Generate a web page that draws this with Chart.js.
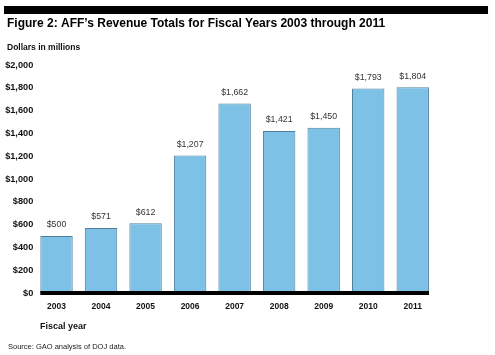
<!DOCTYPE html>
<html><head><meta charset="utf-8">
<script src="https://cdn.jsdelivr.net/npm/chart.js@4/dist/chart.umd.min.js"></script>
<style>html,body{margin:0;padding:0;background:#fff;}#wrap{width:495px;height:355px;position:relative;}</style>
</head><body><div id="wrap"><canvas id="c" width="495" height="355"></canvas></div>
<script>
const years = ["2003","2004","2005","2006","2007","2008","2009","2010","2011"];
const revenue = [500, 571, 612, 1207, 1662, 1421, 1450, 1793, 1804];
const yTicks = [0,200,400,600,800,1000,1200,1400,1600,1800,2000];
const titleText = "Figure 2: AFF\u2019s Revenue Totals for Fiscal Years 2003 through 2011";
const unitText = "Dollars in millions";
const xAxisTitle = "Fiscal year";
const sourceText = "Source: GAO analysis of DOJ data.";

const fmt = v => "$" + v.toLocaleString("en-US");
const FF = "'Liberation Sans', Arial, sans-serif";

const decor = {
  id: 'decor',
  beforeDraw(chart) {
    const ctx = chart.ctx;
    ctx.save();
    ctx.fillStyle = "#fff"; ctx.fillRect(0,0,chart.width,chart.height);
    ctx.fillStyle = "#000"; ctx.fillRect(4,6,484,8);
    ctx.fillStyle = "#000"; ctx.textBaseline = "middle"; ctx.textAlign = "left";
    ctx.font = "bold 12px " + FF; ctx.fillText(titleText, 7, 23.5);
    ctx.font = "bold 8.5px " + FF; ctx.fillStyle = "#111"; ctx.fillText(unitText, 7, 48);
    ctx.font = "bold 9px " + FF; ctx.fillText(xAxisTitle, 40, 327);
    ctx.font = "7.5px " + FF; ctx.fillStyle = "#222"; ctx.fillText(sourceText, 8, 347);
    ctx.restore();
  },
  afterDatasetsDraw(chart) {
    const ctx = chart.ctx;
    const meta = chart.getDatasetMeta(0).data;
    ctx.save();
    const first = meta[0], last = meta[meta.length - 1];
    const yb = chart.scales.y.getPixelForValue(0);
    ctx.fillStyle = "#000";
    ctx.fillRect(first.x - first.width / 2, yb - 2, (last.x + last.width / 2) - (first.x - first.width / 2), 4);
    ctx.font = "8.8px " + FF; ctx.fillStyle = "#333"; ctx.textAlign = "center"; ctx.textBaseline = "middle";
    meta.forEach((bar, i) => {
      ctx.fillText(fmt(revenue[i]), bar.x, bar.y - 11);
    });
    ctx.restore();
  }
};

new Chart(document.getElementById('c'), {
  type: 'bar',
  data: { labels: years, datasets: [{ data: revenue, backgroundColor: "#7DC2E6", borderColor: "#4f7f9c", borderWidth: 1, borderSkipped: 'bottom', barPercentage: 0.728, categoryPercentage: 1 }] },
  options: {
    responsive: false, animation: false,
    layout: { padding: { top: 65, right: 60, left: 0, bottom: 0 } },
    plugins: { legend: { display: false }, tooltip: { enabled: false }, title: { display: false } },
    scales: {
      y: {
        min: 0, max: 2000,
        afterFit: s => { s.width = 34.25; },
        afterBuildTicks: s => { s.ticks = yTicks.map(v => ({ value: v })); },
        grid: { display: false, drawTicks: false },
        border: { display: false },
        ticks: { callback: v => fmt(v), font: { family: FF, size: 9.2, weight: 'bold' }, color: "#111", padding: 1 }
      },
      x: {
        afterFit: s => { s.height = 62; },
        grid: { display: false, drawTicks: false },
        border: { display: false },
        ticks: { font: { family: FF, size: 8.5, weight: 'bold' }, color: "#111", padding: 9 }
      }
    }
  },
  plugins: [decor]
});
</script></body></html>
